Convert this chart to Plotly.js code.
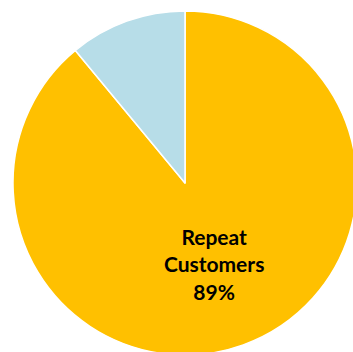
<!DOCTYPE html>
<html>
<head>
<meta charset="utf-8">
<script src="https://cdn.plot.ly/plotly-3.0.1.min.js"></script>
<style>
html,body{margin:0;padding:0;overflow:hidden;background:#fff;}
#chart{width:370px;height:366px;}
</style>
</head>
<body>
<div id="chart"></div>
<script>
const categories = ["Repeat<br>Customers", "New<br>Customers"];
const values = [89, 11];
const colors = ["#FFC000", "#B7DDE8"];

const W = 370, H = 366;
const data = [{
  type: "pie",
  labels: categories,
  values: values,
  sort: false,
  direction: "clockwise",
  rotation: 0,
  marker: {colors: colors, line: {color: "#ffffff", width: 1.5}},
  textinfo: "label+percent",
  texttemplate: ["<b>%{label}<br>%{percent:.0%}</b>", ""],
  textposition: "inside",
  insidetextorientation: "horizontal",
  insidetextfont: {family: "Lato, 'Open Sans', sans-serif", size: 21, color: "#000000"},
  hoverinfo: "none",
  showlegend: false
}];
const layout = {
  width: W, height: H,
  margin: {l: 13, r: 13, t: 11, b: 11, pad: 0},
  paper_bgcolor: "#ffffff",
  showlegend: false,
  uniformtext: {mode: false}
};
Plotly.newPlot("chart", data, layout, {displayModeBar: false, staticPlot: true});
</script>
</body>
</html>
